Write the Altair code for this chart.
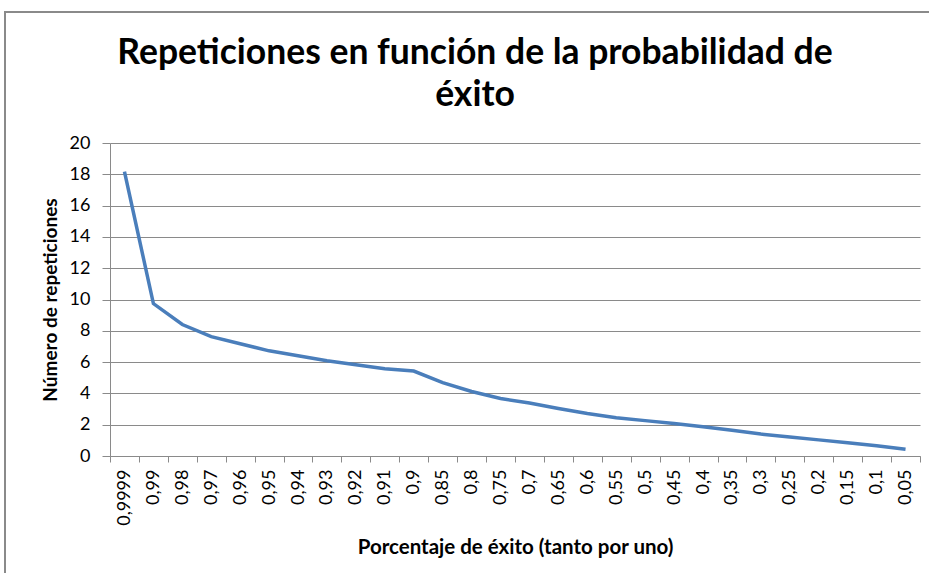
import altair as alt
import pandas as pd

categories = ["0,9999", "0,99", "0,98", "0,97", "0,96", "0,95", "0,94", "0,93",
              "0,92", "0,91", "0,9", "0,85", "0,8", "0,75", "0,7", "0,65", "0,6",
              "0,55", "0,5", "0,45", "0,4", "0,35", "0,3", "0,25", "0,2", "0,15",
              "0,1", "0,05"]
repeticiones = [18.17, 9.74, 8.40, 7.63, 7.17, 6.72, 6.40, 6.08, 5.83, 5.58, 5.43,
                4.69, 4.12, 3.67, 3.39, 3.03, 2.71, 2.45, 2.26, 2.08, 1.87, 1.64,
                1.40, 1.21, 1.03, 0.84, 0.66, 0.43]
y_ticks = list(range(0, 21, 2))
title_lines = ["Repeticiones en función de la probabilidad de", "éxito"]

df = pd.DataFrame({"p": categories, "n": repeticiones})

W, H = 810, 313
FONT = "Lato"
GRID = "#8a8a8a"

line = alt.Chart(df).mark_line(color="#4a7ebb", strokeWidth=3.5).encode(
    x=alt.X("p:N", sort=categories, bandPosition=0.5,
            scale=alt.Scale(type="band", paddingInner=0, paddingOuter=0),
            axis=alt.Axis(title="Porcentaje de éxito (tanto por uno)",
                          tickBand="extent",
                          labelAngle=270, labelFont=FONT, labelFontSize=18,
                          labelColor="#000000", labelPadding=7,
                          tickSize=6, tickColor=GRID, domainColor=GRID,
                          grid=False,
                          titleFont=FONT, titleFontSize=20.5, titleFontWeight="bold",
                          titleColor="#000000", titleY=91, titleBaseline="middle")),
    y=alt.Y("n:Q", scale=alt.Scale(domain=[0, 20], nice=False),
            axis=alt.Axis(title="Número de repeticiones", values=y_ticks,
                          labelFont=FONT, labelFontSize=18, labelColor="#000000",
                          labelPadding=12, tickSize=8, tickColor=GRID,
                          domainColor=GRID, gridColor=GRID, gridWidth=1,
                          titleFont=FONT, titleFontSize=19, titleFontWeight="bold",
                          titleColor="#000000", titleX=-60, titleY=H / 2,
                          titleAngle=270, titleAlign="center",
                          titleBaseline="middle")),
)

title = alt.Chart(pd.DataFrame({"t": [0]})).mark_text(
    text=title_lines, font=FONT, fontSize=35.5, fontWeight="bold", color="#000000",
    align="center", baseline="alphabetic", lineHeight=42,
).encode(x=alt.value(475 - 110), y=alt.value(64 - 143))

border = alt.Chart(pd.DataFrame({"t": [0]})).mark_rect(
    fill=None, stroke="#8a8a8a", strokeWidth=2).encode(
    x=alt.value(5 - 110), x2=alt.value(960 - 110),
    y=alt.value(12 - 143), y2=alt.value(620 - 143),
)

chart = alt.layer(border, line, title).properties(
    width=W, height=H,
    autosize=alt.AutoSizeParams(type="none"),
    padding={"left": 110, "top": 143, "right": 9, "bottom": 117},
    background="#ffffff",
).configure_view(stroke=None)

chart.save("out.html", embed_options={"renderer": "svg", "actions": False})
